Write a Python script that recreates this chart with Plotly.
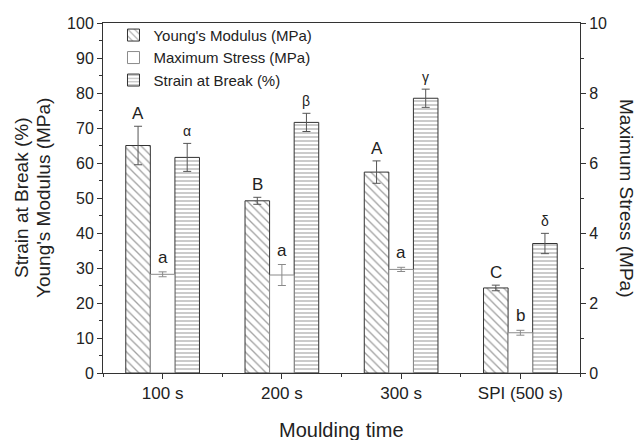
import plotly.graph_objects as go

# Moulding-time categories and measured properties (mean ± SD)
categories = ["100 s", "200 s", "300 s", "SPI (500 s)"]
youngs_modulus = [65.0, 49.2, 57.4, 24.3]       # MPa, left axis
youngs_err = [5.5, 1.0, 3.2, 0.8]
max_stress = [2.82, 2.80, 2.96, 1.15]           # MPa, right axis
max_stress_err = [0.07, 0.30, 0.06, 0.07]
strain_break = [61.6, 71.6, 78.5, 37.0]         # %, left axis
strain_err = [4.0, 2.6, 2.6, 2.9]

youngs_labels = ["A", "B", "A", "C"]
stress_labels = ["a", "a", "a", "b"]
strain_labels = ["α", "β", "γ", "δ"]

FONT = "Liberation Sans, Arial, sans-serif"
INK = "#222222"
idx = list(range(len(categories)))

BAR_W = 0.206
offsets = [-1.5 * BAR_W, -0.5 * BAR_W, 0.5 * BAR_W]

fig = go.Figure()

fig.add_trace(go.Bar(
    name="Young's Modulus (MPa)", x=idx, y=youngs_modulus,
    width=BAR_W, offset=offsets[0],
    marker=dict(color="white", line=dict(color="#333333", width=1),
                pattern=dict(shape="\\", fgcolor="#444444", bgcolor="white",
                             size=6, solidity=0.22)),
    error_y=dict(type="data", array=youngs_err, color="#555555",
                 thickness=1, width=4),
    yaxis="y",
))

fig.add_trace(go.Bar(
    name="Maximum Stress (MPa)", x=idx, y=max_stress,
    width=BAR_W, offset=offsets[1],
    marker=dict(color="white", line=dict(color="#8a8a8a", width=1)),
    error_y=dict(type="data", array=max_stress_err, color="#8a8a8a",
                 thickness=1, width=4),
    yaxis="y2",
))

fig.add_trace(go.Bar(
    name="Strain at Break (%)", x=idx, y=strain_break,
    width=BAR_W, offset=offsets[2],
    marker=dict(color="white", line=dict(color="#333333", width=1),
                pattern=dict(shape="-", fgcolor="#444444", bgcolor="white",
                             size=4, solidity=0.28)),
    error_y=dict(type="data", array=strain_err, color="#555555",
                 thickness=1, width=4),
    yaxis="y",
))

# Significance letters above each error bar
annotations = []
for i in idx:
    annotations.append(dict(
        x=i + offsets[0] + BAR_W / 2, y=youngs_modulus[i] + youngs_err[i],
        xref="x", yref="y", text=youngs_labels[i], showarrow=False,
        yanchor="bottom", yshift=1, font=dict(family=FONT, size=17, color=INK)))
    annotations.append(dict(
        x=i + offsets[1] + BAR_W / 2, y=max_stress[i] + max_stress_err[i],
        xref="x", yref="y2", text=stress_labels[i], showarrow=False,
        yanchor="bottom", yshift=3, font=dict(family=FONT, size=17, color=INK)))
    annotations.append(dict(
        x=i + offsets[2] + BAR_W / 2, y=strain_break[i] + strain_err[i],
        xref="x", yref="y", text=strain_labels[i], showarrow=False,
        yanchor="bottom", yshift=2, font=dict(family=FONT, size=14, color=INK)))

# Axis titles: two stacked lines on the left, one on the right, one below
title_font = dict(family=FONT, size=19, color=INK)
annotations.append(dict(
    x=0, xref="paper", xanchor="center", xshift=-82,
    y=0.5, yref="paper", text="Strain at Break (%)", textangle=-90,
    showarrow=False, font=title_font))
annotations.append(dict(
    x=0, xref="paper", xanchor="center", xshift=-60,
    y=0.5, yref="paper", text="Young's Modulus (MPa)", textangle=-90,
    showarrow=False, font=title_font))
annotations.append(dict(
    x=1, xref="paper", xanchor="center", xshift=47,
    y=0.5, yref="paper", text="Maximum Stress (MPa)", textangle=90,
    showarrow=False, font=title_font))
annotations.append(dict(
    x=0.5, xref="paper", xanchor="center",
    y=0, yref="paper", yanchor="middle", yshift=-57,
    text="Moulding time", showarrow=False,
    font=dict(family=FONT, size=20, color=INK)))

axis_common = dict(
    showgrid=False, zeroline=False, showline=True, linecolor="#333333",
    linewidth=1, ticks="outside", ticklen=5, tickcolor="#333333",
    tickfont=dict(family=FONT, size=16, color=INK),
)

fig.update_layout(
    width=641, height=440,
    margin=dict(l=103, r=61, t=23, b=67),
    plot_bgcolor="white", paper_bgcolor="white",
    font=dict(family=FONT, color=INK),
    barmode="overlay",
    showlegend=True,
    legend=dict(x=0.022, y=1.012, xanchor="left", yanchor="top",
                bgcolor="rgba(0,0,0,0)", borderwidth=0,
                font=dict(family=FONT, size=15, color=INK),
                tracegroupgap=0, itemwidth=30),
    xaxis=dict(
        **axis_common, range=[-0.5, 3.5], tickmode="array",
        tickvals=idx, ticktext=categories, mirror=True,
        minor=dict(tickmode="linear", tick0=-0.5, dtick=1, ticks="outside",
                   ticklen=3, tickcolor="#333333"),
    ),
    yaxis=dict(
        **axis_common, range=[0, 100], dtick=10,
        minor=dict(dtick=5, ticks="outside", ticklen=3, tickcolor="#333333"),
    ),
    yaxis2=dict(
        **axis_common, range=[0, 10], dtick=2, overlaying="y", side="right",
        anchor="x",
        minor=dict(dtick=1, ticks="outside", ticklen=3, tickcolor="#333333"),
    ),
    annotations=annotations,
)
fig.update_xaxes(tickfont=dict(size=17))

fig.write_html("out.html")
